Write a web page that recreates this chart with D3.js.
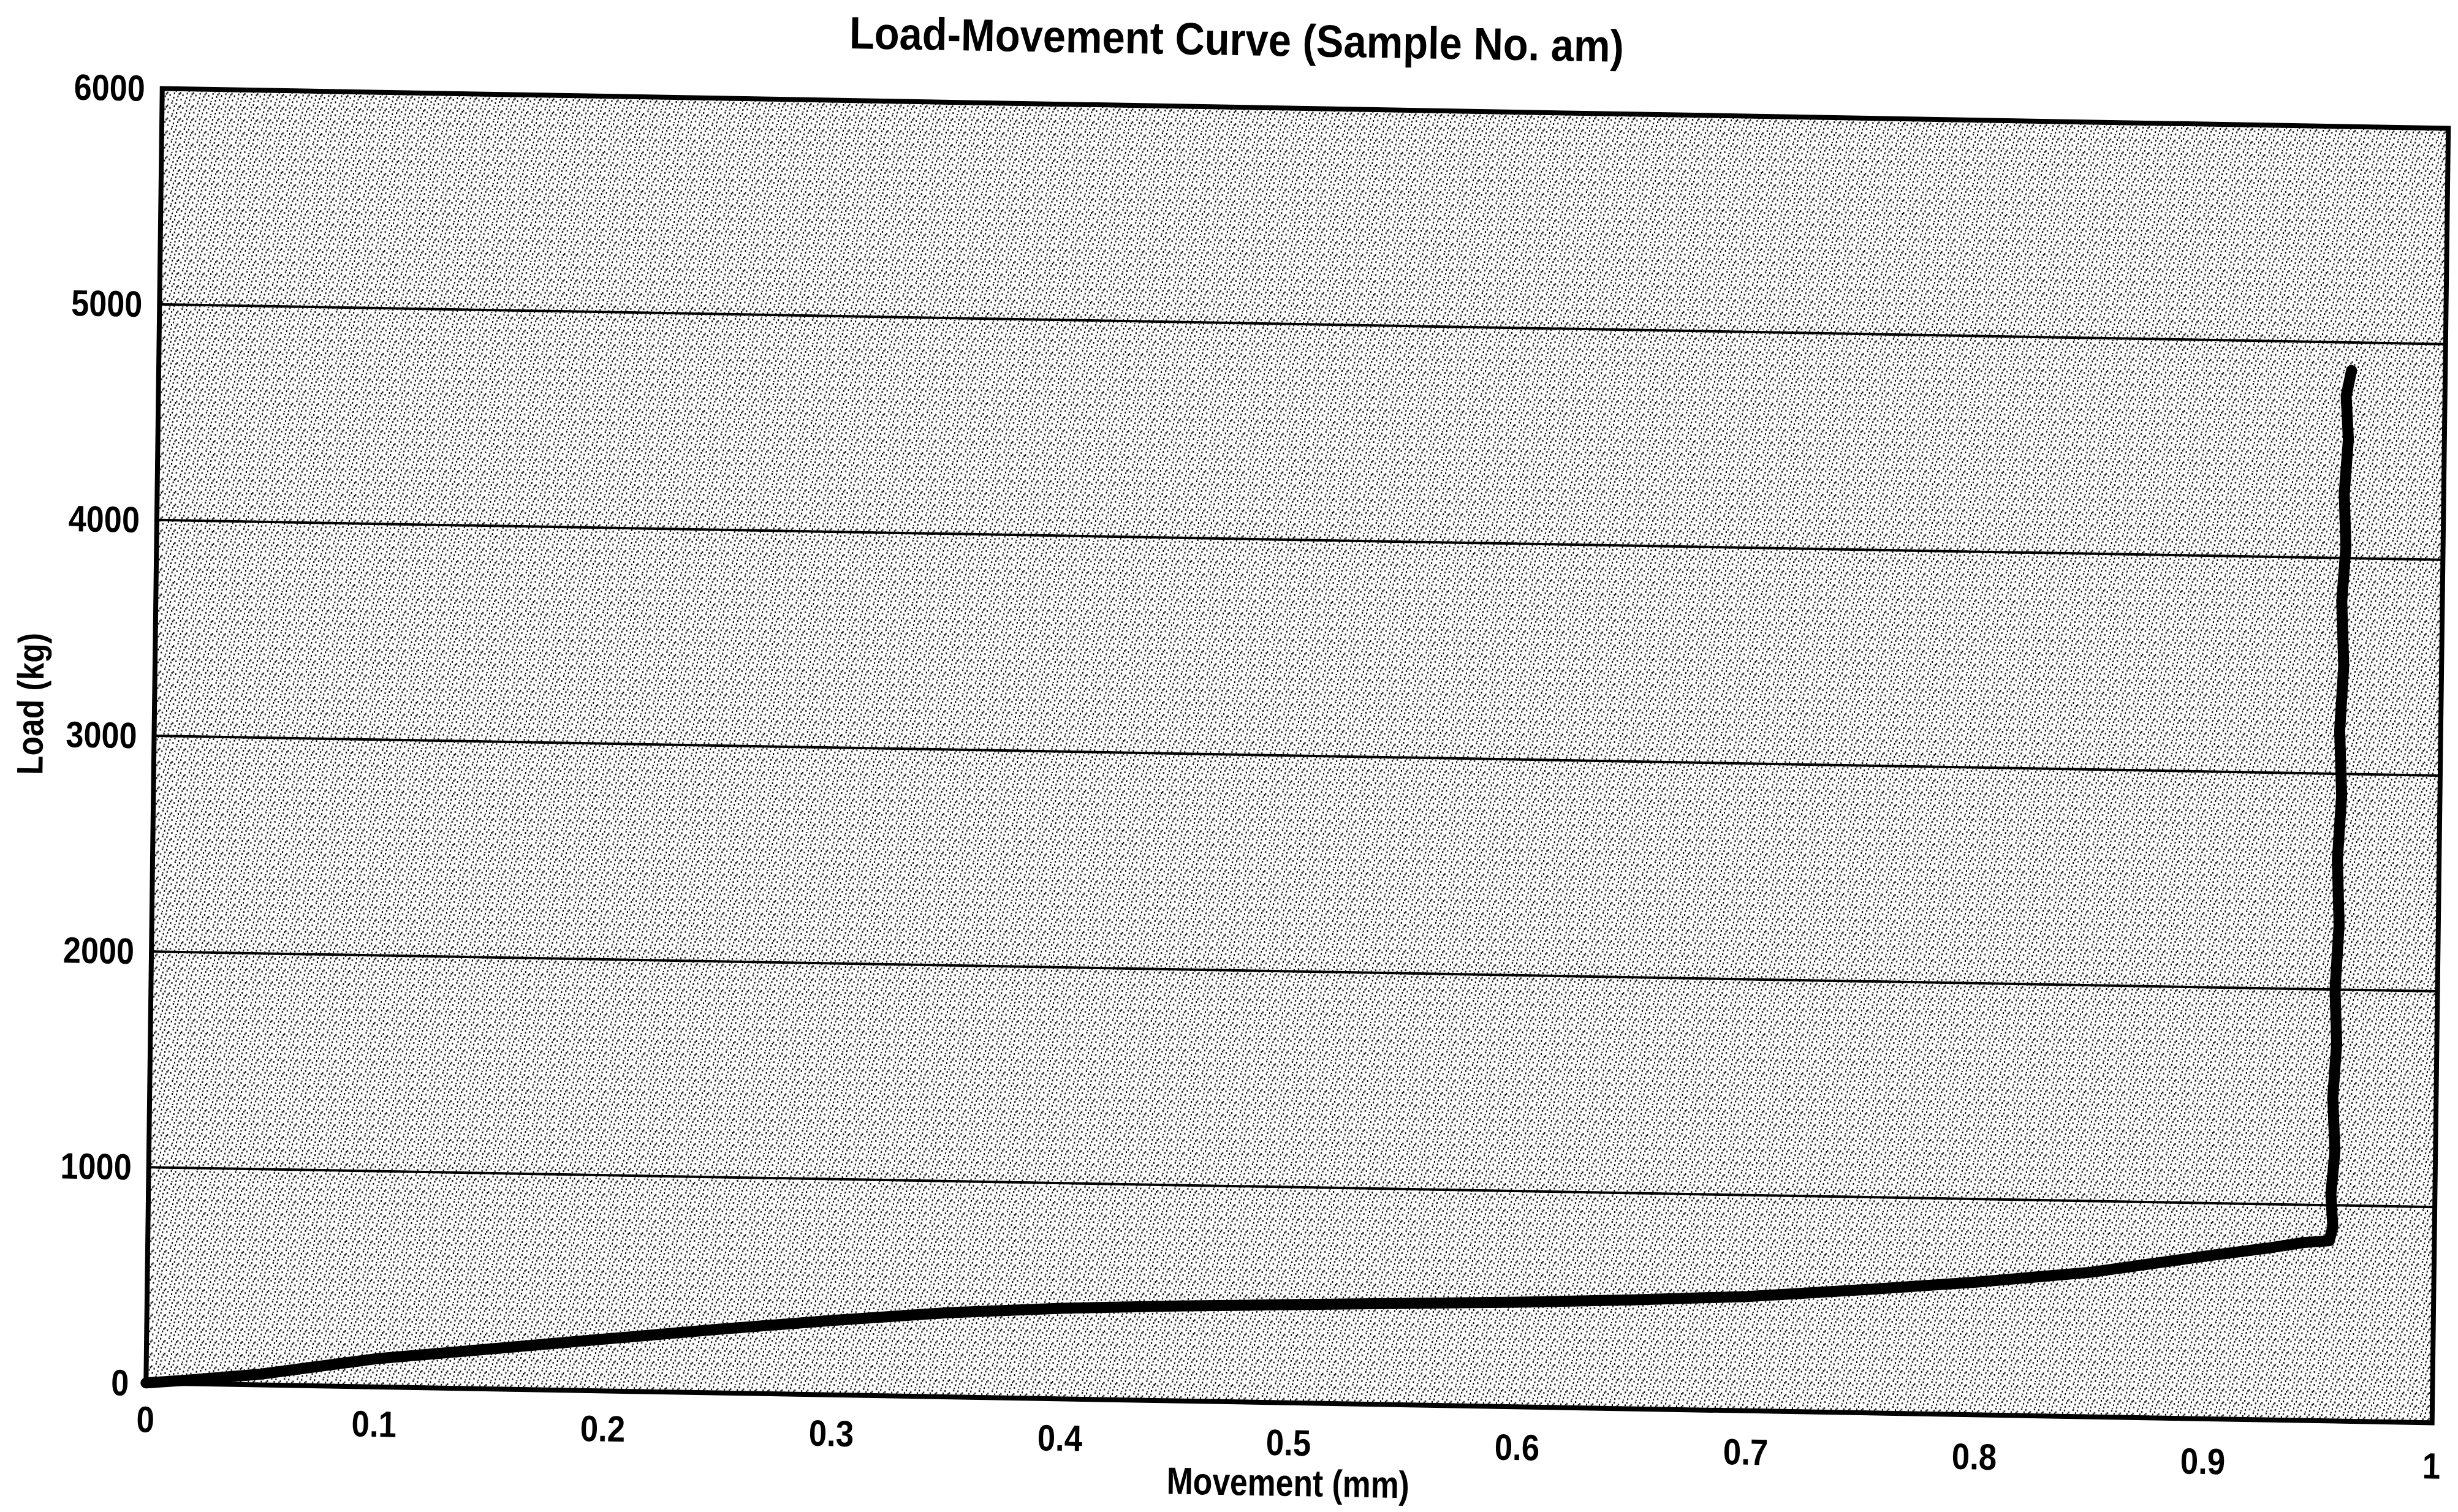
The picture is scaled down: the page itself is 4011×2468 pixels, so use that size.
<!DOCTYPE html>
<html>
<head>
<meta charset="utf-8">
<script src="https://cdn.jsdelivr.net/npm/d3@7"></script>
<style>
  html, body { margin: 0; padding: 0; background: #ffffff; }
  svg { display: block; }
</style>
</head>
<body>
<svg id="chart" width="4011" height="2468"></svg>
<script>
// ---------------- data ----------------
const chartTitle = "Load-Movement Curve (Sample No. am)";
const xAxisTitle = "Movement (mm)";
const yAxisTitle = "Load (kg)";

const xTickValues = [0, 0.1, 0.2, 0.3, 0.4, 0.5, 0.6, 0.7, 0.8, 0.9, 1];
const xTickLabels = ["0", "0.1", "0.2", "0.3", "0.4", "0.5", "0.6", "0.7", "0.8", "0.9", "1"];
const yTickValues = [0, 1000, 2000, 3000, 4000, 5000, 6000];
const yTickLabels = ["0", "1000", "2000", "3000", "4000", "5000", "6000"];
const gridValues = [1000, 2000, 3000, 4000, 5000];

// Movement (mm) and Load (kg)
const movement = [0, 0.02, 0.05, 0.1, 0.15, 0.2, 0.25, 0.3, 0.35, 0.4, 0.45, 0.5, 0.55, 0.6, 0.65, 0.7,
                  0.75, 0.8, 0.85, 0.9, 0.927, 0.943, 0.954,
                  0.9555, 0.9545, 0.956, 0.9548, 0.9562, 0.9552, 0.9566, 0.9555, 0.957, 0.9558,
                  0.9572, 0.956, 0.9575, 0.9565, 0.958, 0.9568, 0.959];
const load = [0, 18, 50, 130, 185, 240, 295, 345, 390, 420, 440, 455, 470, 485, 505, 530,
              570, 615, 670, 754, 796, 825, 835,
              900, 1050, 1250, 1500, 1750, 2000, 2300, 2600, 2900, 3200,
              3500, 3800, 4050, 4300, 4550, 4750, 4870];

// ---------------- layout ----------------
const W = 3731, H = 2113;
const svg = d3.select("#chart");
const FONT = "'Liberation Sans', Arial, Helvetica, sans-serif";

const defs = svg.append("defs");
const pat = defs.append("pattern")
  .attr("id", "stipple")
  .attr("patternUnits", "userSpaceOnUse")
  .attr("width", 21).attr("height", 21);
pat.append("rect").attr("width", 21).attr("height", 21).attr("fill", "#ffffff");
[[1,2],[8,5],[15,1],[4,11],[12,9],[18,13],[2,17],[9,16],[16,19],[6,7],[19,6]].forEach(p => {
  pat.append("rect").attr("x", p[0]).attr("y", p[1]).attr("width", 2).attr("height", 3).attr("fill", "#000");
});

// page is scanned slightly skewed
const g = svg.append("g")
  .attr("transform", "matrix(0.99985,0.01742,-0.01254,0.99992,264.75,144.5)");

const x = d3.scaleLinear().domain([0, 1]).range([0, W]);
const y = d3.scaleLinear().domain([0, 6000]).range([H, 0]);

// plot background
g.append("rect").attr("x", 0).attr("y", 0).attr("width", W).attr("height", H)
  .attr("fill", "url(#stipple)");

// gridlines
g.append("g").selectAll("line").data(gridValues).join("line")
  .attr("x1", 0).attr("x2", W)
  .attr("y1", d => y(d)).attr("y2", d => y(d))
  .attr("stroke", "#000").attr("stroke-width", 4);

// curve
const line = d3.line().x((d, i) => x(movement[i])).y((d, i) => y(load[i]));
g.append("path")
  .attr("d", line(movement))
  .attr("fill", "none")
  .attr("stroke", "#000")
  .attr("stroke-width", 18)
  .attr("stroke-linejoin", "round")
  .attr("stroke-linecap", "round");

// frame
g.append("rect").attr("x", 0).attr("y", 0).attr("width", W).attr("height", H)
  .attr("fill", "none").attr("stroke", "#000").attr("stroke-width", 8);

// y tick labels
g.append("g").selectAll("text").data(yTickValues).join("text")
  .attr("transform", d => `translate(-28,${y(d)}) scale(0.87,1)`)
  .attr("text-anchor", "end")
  .attr("dominant-baseline", "central")
  .attr("font-family", FONT).attr("font-weight", "bold").attr("font-size", 60)
  .attr("fill", "#000")
  .text((d, i) => yTickLabels[i]);

// x tick labels
g.append("g").attr("transform", `rotate(0.17,${W / 2},${H})`)
  .selectAll("text").data(xTickValues).join("text")
  .attr("transform", d => `translate(${x(d)},${H + 65}) scale(0.88,1)`)
  .attr("text-anchor", "middle")
  .attr("dominant-baseline", "central")
  .attr("font-family", FONT).attr("font-weight", "bold").attr("font-size", 60)
  .attr("fill", "#000")
  .text((d, i) => xTickLabels[i]);

// title
g.append("text")
  .attr("x", 1752).attr("y", -85)
  .attr("text-anchor", "middle")
  .attr("font-family", FONT).attr("font-weight", "bold").attr("font-size", 74)
  .attr("textLength", 1264).attr("lengthAdjust", "spacingAndGlyphs")
  .attr("fill", "#000")
  .text(chartTitle);

// x axis title
g.append("text")
  .attr("x", W / 2).attr("y", H + 152)
  .attr("text-anchor", "middle")
  .attr("font-family", FONT).attr("font-weight", "bold").attr("font-size", 62)
  .attr("textLength", 396).attr("lengthAdjust", "spacingAndGlyphs")
  .attr("fill", "#000")
  .text(xAxisTitle);

// y axis title
g.append("text")
  .attr("transform", "translate(-202,1008) rotate(-90)")
  .attr("text-anchor", "middle")
  .attr("dominant-baseline", "central")
  .attr("font-family", FONT).attr("font-weight", "bold").attr("font-size", 60)
  .attr("textLength", 232).attr("lengthAdjust", "spacingAndGlyphs")
  .attr("fill", "#000")
  .text(yAxisTitle);
</script>
</body>
</html>
